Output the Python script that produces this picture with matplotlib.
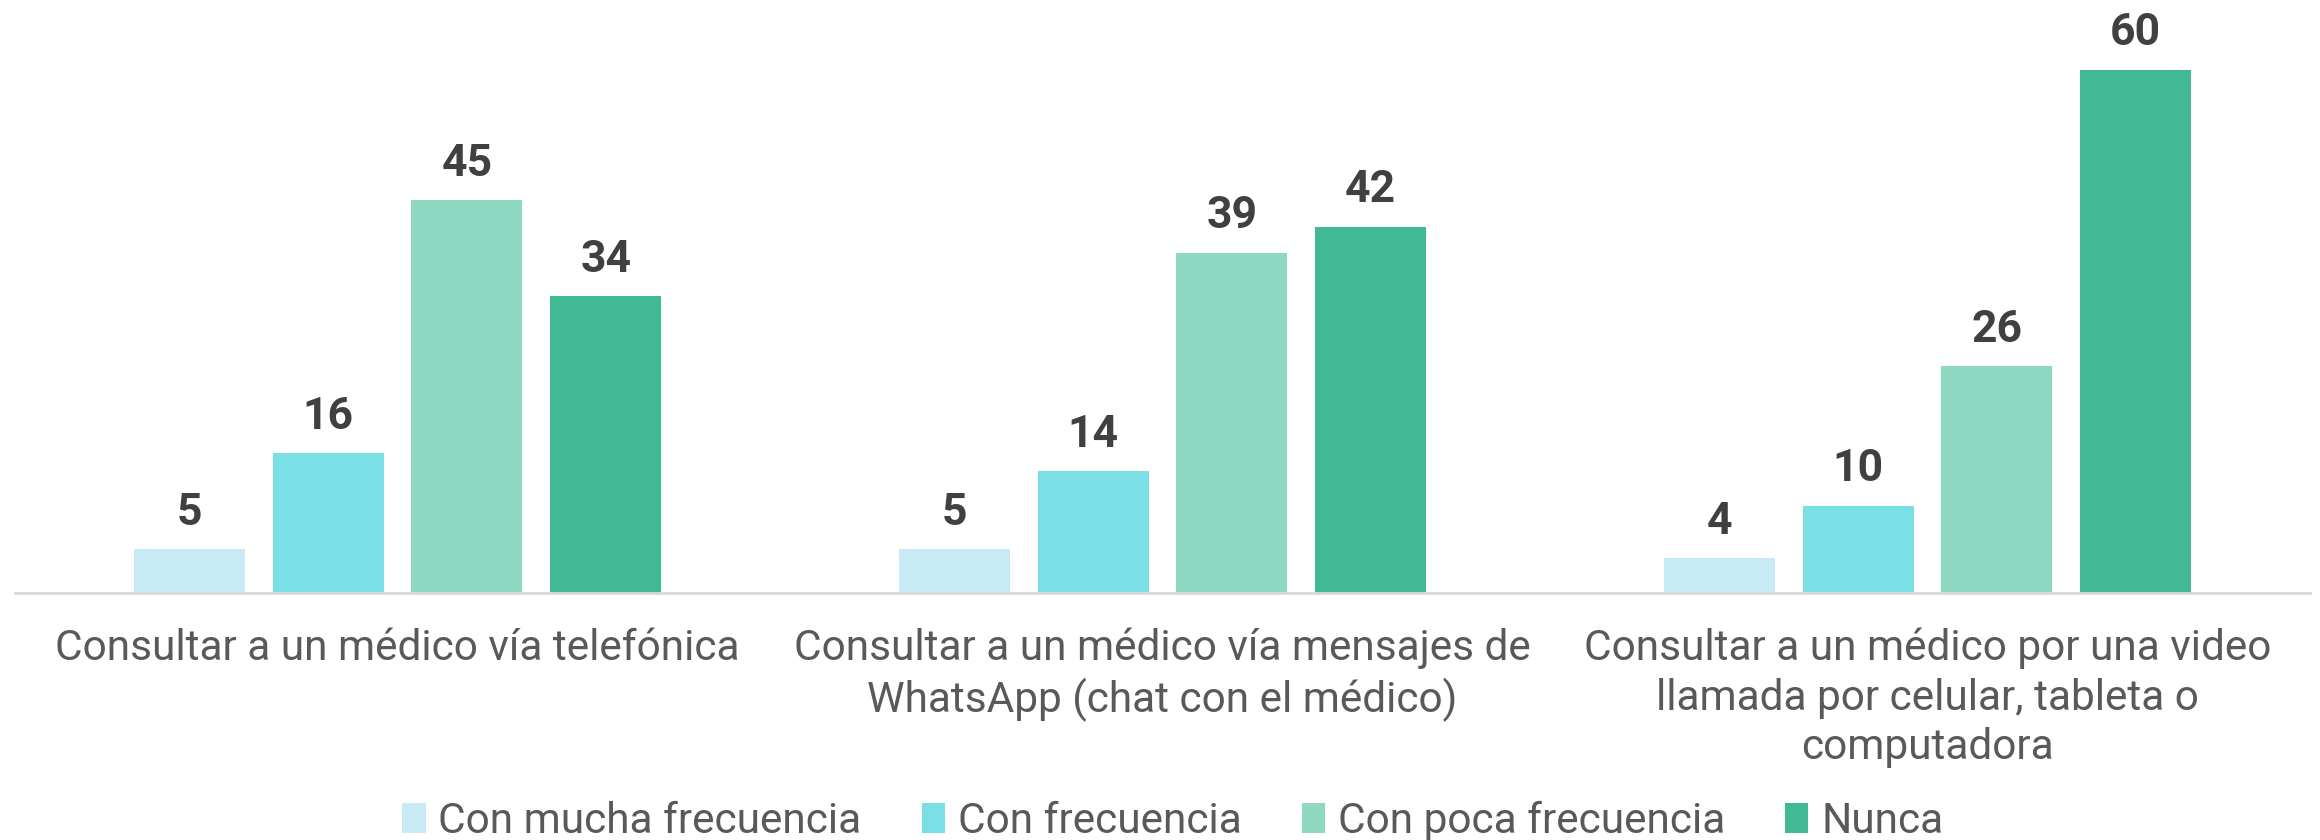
import matplotlib
matplotlib.use("Agg")
import matplotlib.pyplot as plt
import numpy as np

plt.rcParams['font.family'] = ['Roboto', 'DejaVu Sans']

categorias = [
    "Consultar a un médico vía telefónica",
    "Consultar a un médico vía mensajes de\nWhatsApp (chat con el médico)",
    "Consultar a un médico por una video\nllamada por celular, tableta o\ncomputadora",
]
series = ["Con mucha frecuencia", "Con frecuencia", "Con poca frecuencia", "Nunca"]
mucha = [5, 5, 4]
frecuencia = [16, 14, 10]
poca = [45, 39, 26]
nunca = [34, 42, 60]
colores = ["#C8EAF5", "#7AE0E6", "#8ED7C0", "#42B995"]

valores = [mucha, frecuencia, poca, nunca]

fig = plt.figure(figsize=(23.2, 8.4), dpi=100)
# plot area in pixels: x 15..2310, baseline y=593, top y=10
ax = fig.add_axes([15 / 2320, (840 - 593) / 840, 2295 / 2320, 583 / 840])

x = np.arange(len(categorias))
ancho = 0.145
paso = 0.1815
for i, (nombre, vals, col) in enumerate(zip(series, valores, colores)):
    pos = x + (i - 1.5) * paso
    barras = ax.bar(pos, vals, width=ancho, color=col, label=nombre)
    for b, v in zip(barras, vals):
        ax.annotate(str(v), (b.get_x() + b.get_width() / 2, v),
                    xytext=(0, 11), textcoords="offset points",
                    ha="center", va="bottom", fontsize=32,
                    fontweight="bold", color="#404040")

ax.set_xlim(-0.5, 2.5)
ax.set_ylim(0, 583 / 8.725)
ax.set_xticks(x)
ax.set_xticklabels(categorias, fontsize=30.5, color="#595959", linespacing=1.26)
ax.tick_params(axis="x", length=0, pad=25)
ax.set_yticks([])
for s in ["top", "right", "left"]:
    ax.spines[s].set_visible(False)
ax.spines["bottom"].set_color("#D9D9D9")
ax.spines["bottom"].set_linewidth(2)

fig.legend(loc="center", bbox_to_anchor=(0.5055, 19 / 840), ncol=4, frameon=False,
           fontsize=30.5, labelcolor="#595959", handlelength=0.55, handleheight=0.7,
           handletextpad=0.3, columnspacing=1.42, borderaxespad=0)

fig.savefig("out.png", dpi=100)
